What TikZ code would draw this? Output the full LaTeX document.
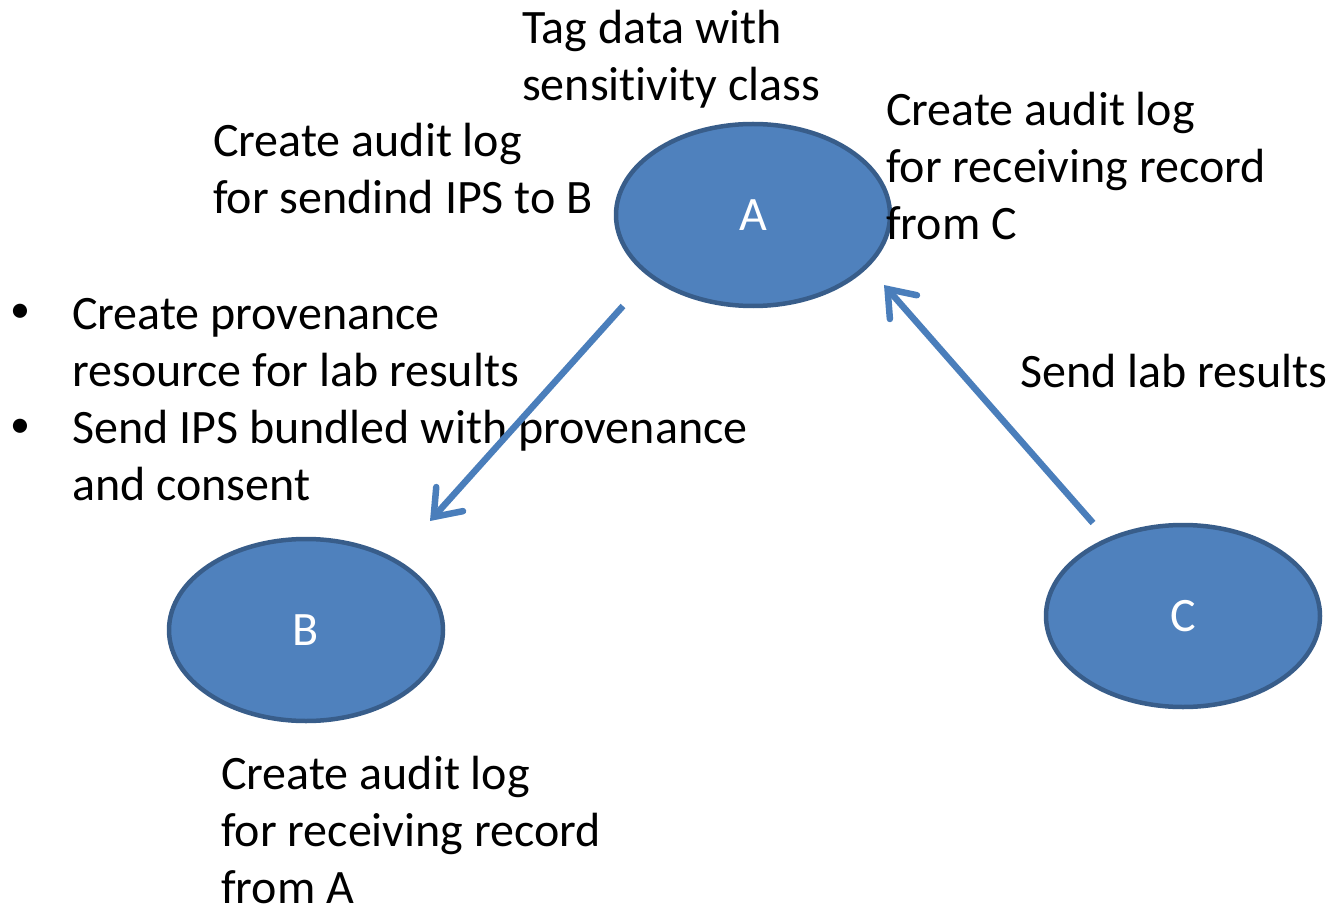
\documentclass[tikz,border=0pt]{standalone}
\usepackage{fontspec}
\setmainfont{Carlito}[Ligatures=NoCommon]
\usetikzlibrary{shapes.geometric,arrows.meta}
\definecolor{nodefill}{HTML}{4F81BD}
\definecolor{nodeline}{HTML}{385D8A}
\definecolor{arrowblue}{HTML}{4A7EBB}
\begin{document}
\begin{tikzpicture}[x=1pt,y=-1pt,
  party/.style={ellipse, fill=nodefill, draw=nodeline, line width=4.5pt,
    minimum width=274pt, minimum height=182pt, inner sep=0pt,
    text=white, font=\fontsize{48}{57}\selectfont},
  % multi-line notes are placed by the baseline of their last line
  note/.style={anchor=base west, inner sep=0pt, align=left,
    font=\fontsize{48}{57}\selectfont},
  bulletmark/.style={anchor=center, inner sep=0pt, font=\fontsize{40}{40}\selectfont},
  flow/.style={draw=arrowblue, line width=6.5pt,
    -{Straight Barb[length=24pt,width=36pt,line cap=round]}}
]
\useasboundingbox (0,0) rectangle (1333,909);

% parties
\node[party] (A) at (753,215) {A};
\node[party] (B) at (306,630) {B};
\node[party] (C) at (1183,616) {C};

% annotations
\node[note] (tag) at (522,101) {Tag data with\\sensitivity class};
\node[note] (logAB) at (213,214) {Create audit log\\for sendind IPS to B};
\node[note] (logCA) at (886,240) {Create audit log\\for receiving record\\from C};
\node[note] (steps) at (72,500) {Create provenance\\resource for lab results\\Send IPS bundled with provenance\\and consent};
\node[bulletmark] (bul1) at (20,313) {•};
\node[bulletmark] (bul2) at (20,428) {•};
\node[note] (lab) at (1020,387) {Send lab results};
\node[note] (logAB2) at (221,903) {Create audit log\\for receiving record\\from A};

% message flows
\coordinate (aout) at (623,306);
\coordinate (bin) at (430,521);
\coordinate (cout) at (1093,523);
\coordinate (ain) at (884,285);
\draw[flow] (aout) -- (bin);
\draw[flow] (cout) -- (ain);
\end{tikzpicture}
\end{document}
